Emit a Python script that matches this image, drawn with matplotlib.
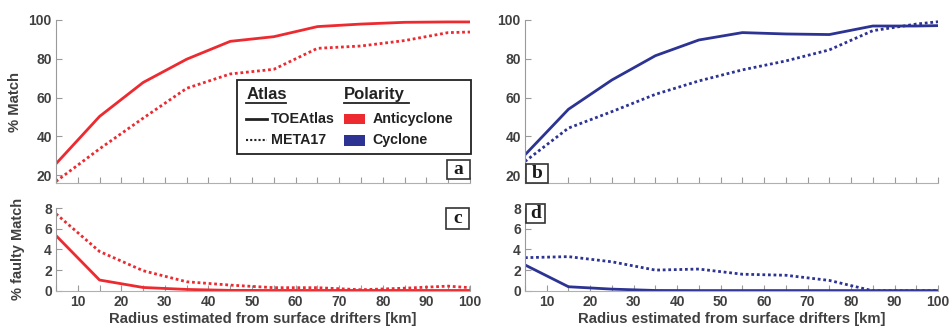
"""
Match rate of drifter-detected eddies vs. radius, two atlases, two polarities
"""
import matplotlib
matplotlib.use("Agg")
import matplotlib.pyplot as plt
from matplotlib.lines import Line2D
from matplotlib.patches import Rectangle

plt.rcParams["font.family"] = ["Liberation Sans", "DejaVu Sans"]
plt.rcParams["font.weight"] = "bold"
plt.rcParams["axes.labelweight"] = "bold"

RED = "#EC2A30"
BLUE = "#2C3393"
TXT = "#404040"
SPINE = "#9a9a9a"
W, H = 950, 331

radius = [5, 15, 25, 35, 45, 55, 65, 75, 85, 95, 100]

# % match
match_toe_anti = [25.9, 50.3, 67.8, 79.8, 89.0, 91.4, 96.6, 97.9, 98.8, 99.0, 99.0]
match_meta_anti = [16.8, 33.6, 49.4, 64.8, 72.2, 74.6, 85.4, 86.6, 89.4, 93.5, 93.8]
match_toe_cyc = [30.5, 54.0, 69.1, 81.6, 89.7, 93.5, 92.8, 92.5, 96.9, 96.9, 97.1]
match_meta_cyc = [27.1, 44.3, 52.8, 61.7, 68.6, 74.3, 78.9, 84.6, 94.5, 97.9, 99.1]

# % faulty match
faulty_toe_anti = [5.34, 1.04, 0.32, 0.13, 0.04, 0.03, 0.03, 0.03, 0.03, 0.03, 0.03]
faulty_meta_anti = [7.44, 3.8, 1.94, 0.87, 0.55, 0.3, 0.3, 0.1, 0.25, 0.45, 0.3]
faulty_toe_cyc = [2.5, 0.39, 0.16, 0.03, 0.02, 0.02, 0.02, 0.02, 0.02, 0.02, 0.02]
faulty_meta_cyc = [3.2, 3.3, 2.8, 2.0, 2.1, 1.6, 1.5, 1.0, 0.0, 0.0, 0.0]

X_TICKS = [10, 20, 30, 40, 50, 60, 70, 80, 90, 100]
XLABEL = "Radius estimated from surface drifters [km]"


def style_axis(axis, ylim, yticks, xlabels):
    axis.set_xlim(5, 100)
    axis.set_ylim(*ylim)
    axis.set_yticks(yticks)
    axis.set_xticks(range(5, 101, 5))
    if xlabels:
        axis.set_xticklabels([str(t) if t in X_TICKS else "" for t in range(5, 101, 5)])
    else:
        axis.set_xticklabels([])
    for side in ["top", "right"]:
        axis.spines[side].set_visible(False)
    axis.spines["left"].set_color(SPINE)
    axis.spines["bottom"].set_color("#b0b0b0")
    axis.tick_params(direction="in", length=4, color=SPINE, labelsize=10,
                     labelcolor=TXT, pad=3)
    for lab in axis.get_xticklabels() + axis.get_yticklabels():
        lab.set_fontweight("bold")


def panel_label(fig, text, left, top, right, bottom):
    # box given in pixel coordinates of the 950x331 picture
    fig.patches.append(Rectangle((left / W, 1 - bottom / H), (right - left) / W,
                                 (bottom - top) / H, transform=fig.transFigure,
                                 fc="white", ec="#333333", lw=1.2, zorder=10))
    fig.text((left + right) / 2 / W, 1 - (top + bottom) / 2 / H, text,
             ha="center", va="center", fontsize=14, fontweight="bold",
             family="Liberation Serif", color="#1a1a1a", zorder=11)


fig = plt.figure(figsize=(9.5, 3.31), dpi=100)
ax_a = fig.add_axes([0.0589, 0.4471, 0.4358, 0.4925])
ax_b = fig.add_axes([0.5526, 0.4471, 0.4348, 0.4925])
ax_c = fig.add_axes([0.0589, 0.1215, 0.4358, 0.2501])
ax_d = fig.add_axes([0.5526, 0.1215, 0.4348, 0.2501])

ax_a.plot(radius, match_toe_anti, color=RED, lw=2)
ax_a.plot(radius, match_meta_anti, color=RED, lw=2, ls=(0, (1, 1)))
ax_b.plot(radius, match_toe_cyc, color=BLUE, lw=2)
ax_b.plot(radius, match_meta_cyc, color=BLUE, lw=2, ls=(0, (1, 1)))
ax_c.plot(radius, faulty_toe_anti, color=RED, lw=2)
ax_c.plot(radius, faulty_meta_anti, color=RED, lw=2, ls=(0, (1, 1)))
ax_d.plot(radius, faulty_toe_cyc, color=BLUE, lw=2)
ax_d.plot(radius, faulty_meta_cyc, color=BLUE, lw=2, ls=(0, (1, 1)))

for axis in [ax_a, ax_b]:
    style_axis(axis, (16, 100), [20, 40, 60, 80, 100], False)
for axis in [ax_c, ax_d]:
    style_axis(axis, (0, 8), [0, 2, 4, 6, 8], True)
    axis.set_xlabel(XLABEL, fontsize=10.7, color=TXT, labelpad=2, fontweight="bold")

ax_a.set_ylabel("% Match", fontsize=10.7, color=TXT, labelpad=5, fontweight="bold")
ax_c.set_ylabel("% faulty Match", fontsize=10.5, color=TXT, labelpad=14, fontweight="bold")

panel_label(fig, "a", 447, 160, 470, 179)
panel_label(fig, "b", 526, 164, 548, 183)
panel_label(fig, "c", 446, 208, 469, 229)
panel_label(fig, "d", 526, 204, 545, 223)

# legend box drawn by hand (two columns with underlined headers)
tr = ax_a.transAxes
x0, y0, x1, y1 = 0.437, 0.18, 1.003, 0.63
ax_a.add_patch(Rectangle((x0, y0), x1 - x0, y1 - y0, transform=tr, fc="white",
                         ec="#222222", lw=1.3, zorder=5, clip_on=False))
leg_kw = dict(transform=tr, color="#222222", va="center", zorder=6, fontweight="bold")
ax_a.text(0.46, 0.545, "Atlas", fontsize=12, **leg_kw)
ax_a.text(0.695, 0.545, "Polarity", fontsize=12, **leg_kw)
ax_a.add_line(Line2D([0.46, 0.556], [0.49, 0.49], transform=tr, color="#222222", lw=1.3, zorder=6))
ax_a.add_line(Line2D([0.695, 0.853], [0.49, 0.49], transform=tr, color="#222222", lw=1.3, zorder=6))
ax_a.add_line(Line2D([0.46, 0.51], [0.392, 0.392], transform=tr, color="#222222", lw=2, zorder=6))
ax_a.add_line(Line2D([0.46, 0.51], [0.262, 0.262], transform=tr, color="#222222", lw=1.5,
                     ls=(0, (1, 1)), zorder=6))
ax_a.text(0.52, 0.392, "TOEAtlas", fontsize=10.3, **leg_kw)
ax_a.text(0.52, 0.262, "META17", fontsize=10.3, **leg_kw)
ax_a.add_patch(Rectangle((0.695, 0.36), 0.052, 0.065, transform=tr, fc=RED, ec="none", zorder=6))
ax_a.add_patch(Rectangle((0.695, 0.23), 0.052, 0.065, transform=tr, fc=BLUE, ec="none", zorder=6))
ax_a.text(0.765, 0.392, "Anticyclone", fontsize=10.3, **leg_kw)
ax_a.text(0.765, 0.262, "Cyclone", fontsize=10.3, **leg_kw)

fig.savefig("out.png", dpi=100)
